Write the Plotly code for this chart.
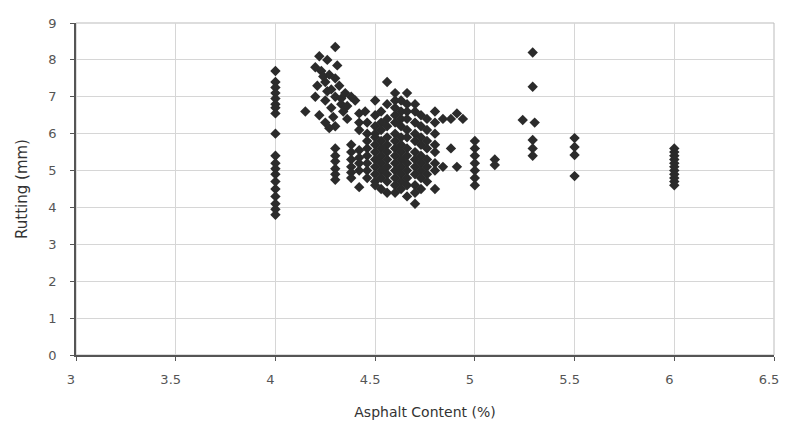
import plotly.graph_objects as go

# Asphalt content (%) and rutting (mm), grouped by column of points
col_4_0_x = 4.0
col_4_0_y = [7.7, 7.4, 7.25, 7.1, 6.95, 6.8, 6.7, 6.55, 6.0, 5.4, 5.2, 5.05, 4.9, 4.7, 4.5, 4.3, 4.1, 3.95, 3.8]

upper_x = [4.15, 4.30, 4.22, 4.26, 4.20, 4.23, 4.27, 4.30, 4.25, 4.21, 4.28, 4.32, 4.35, 4.30, 4.25,
           4.20, 4.33, 4.28, 4.22, 4.25, 4.30, 4.36, 4.40, 4.38, 4.24, 4.31, 4.27, 4.34, 4.29, 4.33,
           4.26, 4.36, 4.42, 4.45]
upper_y = [6.6, 8.35, 8.1, 8.0, 7.8, 7.7, 7.6, 7.5, 7.4, 7.3, 7.2, 7.3, 7.1, 7.0, 6.9,
           7.0, 6.8, 6.7, 6.5, 6.3, 6.2, 6.4, 6.9, 7.0, 7.55, 7.85, 6.15, 6.6, 6.45, 6.95,
           7.15, 6.75, 6.3, 6.6]

col_4_3_y = [5.6, 5.4, 5.25, 5.05, 4.9, 4.75]
col_4_38_y = [5.7, 5.5, 5.3, 5.1, 4.95, 4.8]
col_4_4_y = [6.55, 6.1, 5.55, 5.35, 5.2, 5.0, 4.55]
col_4_45_y = [6.3, 6.0, 5.8, 5.6, 5.4, 5.2, 5.0, 4.8]
col_4_5_y = [6.9, 6.5, 6.2, 6.0, 5.9, 5.7, 5.5, 5.3, 5.1, 4.9, 4.7, 4.6]
col_4_53_y = [6.6, 6.3, 6.1, 5.8, 5.6, 5.4, 5.2, 5.0, 4.8, 4.5]
col_4_56_y = [7.4, 6.8, 6.4, 6.2, 5.9, 5.7, 5.5, 5.3, 5.1, 4.9, 4.7, 4.4]
col_4_6_y = [7.1, 6.9, 6.7, 6.5, 6.3, 6.0, 5.8, 5.6, 5.4, 5.2, 5.0, 4.8, 4.6, 4.4]
col_4_63_y = [6.9, 6.6, 6.4, 6.2, 5.9, 5.7, 5.5, 5.3, 5.1, 4.9, 4.7, 4.5]
col_4_66_y = [7.1, 6.8, 6.6, 6.4, 6.1, 5.9, 5.6, 5.4, 5.2, 5.0, 4.8, 4.6, 4.3]
col_4_7_y = [6.8, 6.6, 6.3, 6.0, 5.8, 5.5, 5.3, 5.1, 4.9, 4.6, 4.4, 4.1]
col_4_73_y = [6.5, 6.2, 5.9, 5.7, 5.4, 5.2, 5.0, 4.8, 4.5]
col_4_76_y = [6.4, 6.1, 5.8, 5.6, 5.3, 5.1, 4.9, 4.7]
col_4_8_y = [6.6, 6.3, 6.0, 5.7, 5.5, 5.2, 5.0, 4.5]

right_x = [4.84, 4.84, 4.88, 4.88, 4.91, 4.91, 4.94]
right_y = [6.4, 5.1, 6.4, 5.6, 6.55, 5.1, 6.4]

col_5_0_y = [5.8, 5.6, 5.4, 5.2, 5.0, 4.8, 4.6]
col_5_1_y = [5.3, 5.15]
col_5_3_x = [5.29, 5.29, 5.24, 5.30, 5.29, 5.29, 5.29]
col_5_3_y = [8.2, 7.27, 6.37, 6.3, 5.83, 5.6, 5.4]
col_5_5_y = [5.88, 5.64, 5.42, 4.85]
col_6_0_y = [5.6, 5.5, 5.4, 5.3, 5.2, 5.1, 5.0, 4.9, 4.8, 4.7, 4.6]

x_ticks = [3, 3.5, 4, 4.5, 5, 5.5, 6, 6.5]
y_ticks = list(range(0, 10))

xs, ys = [], []
def add_col(xv, yv):
    xs.extend([xv] * len(yv))
    ys.extend(yv)

add_col(col_4_0_x, col_4_0_y)
xs.extend(upper_x); ys.extend(upper_y)
add_col(4.30, col_4_3_y)
add_col(4.38, col_4_38_y)
add_col(4.42, col_4_4_y)
add_col(4.46, col_4_45_y)
add_col(4.50, col_4_5_y)
add_col(4.53, col_4_53_y)
add_col(4.56, col_4_56_y)
add_col(4.60, col_4_6_y)
add_col(4.63, col_4_63_y)
add_col(4.66, col_4_66_y)
add_col(4.70, col_4_7_y)
add_col(4.73, col_4_73_y)
add_col(4.76, col_4_76_y)
add_col(4.80, col_4_8_y)
xs.extend(right_x); ys.extend(right_y)
add_col(5.0, col_5_0_y)
add_col(5.1, col_5_1_y)
xs.extend(col_5_3_x); ys.extend(col_5_3_y)
add_col(5.5, col_5_5_y)
add_col(6.0, col_6_0_y)

fig = go.Figure(go.Scatter(
    x=xs, y=ys, mode="markers",
    marker=dict(symbol="diamond", size=8, color="#2b2b2b", line=dict(width=0)),
    hoverinfo="x+y",
))

fnt = "DejaVu Sans, Verdana, sans-serif"
fig.update_layout(
    width=789, height=429,
    margin=dict(l=68, r=23, t=15, b=82, autoexpand=False),
    paper_bgcolor="white", plot_bgcolor="white",
    showlegend=False,
    font=dict(family=fnt, size=14, color="#444"),
    shapes=[dict(type="rect", xref="paper", yref="paper", x0=0, y0=0, x1=1, y1=1,
                 line=dict(color="#bbbbbb", width=1), layer="below")],
)
fig.update_xaxes(
    range=[3, 6.5], tickvals=x_ticks, ticktext=[f"{v:g}" for v in x_ticks],
    showgrid=True, gridcolor="#d6d6d6", gridwidth=1, zeroline=False,
    showline=True, linecolor="#555", linewidth=1.5,
    ticks="outside", ticklen=4, tickcolor="#555", automargin=False,
    ticklabelstandoff=8, ticklabelshift=-5,
    title=dict(text="Asphalt Content (%)", font=dict(size=14, color="#333"), standoff=21),
    tickfont=dict(size=13, color="#555"),
)
fig.update_yaxes(
    range=[0, 9], tickvals=y_ticks,
    showgrid=True, gridcolor="#d6d6d6", gridwidth=1, zeroline=False,
    showline=True, linecolor="#555", linewidth=1.5,
    ticks="outside", ticklen=4, tickcolor="#555", automargin=False,
    ticklabelstandoff=11,
    title=dict(text="Rutting (mm)", font=dict(size=15, color="#333"), standoff=17),
    tickfont=dict(size=13, color="#555"),
)
fig.write_html("out.html")
